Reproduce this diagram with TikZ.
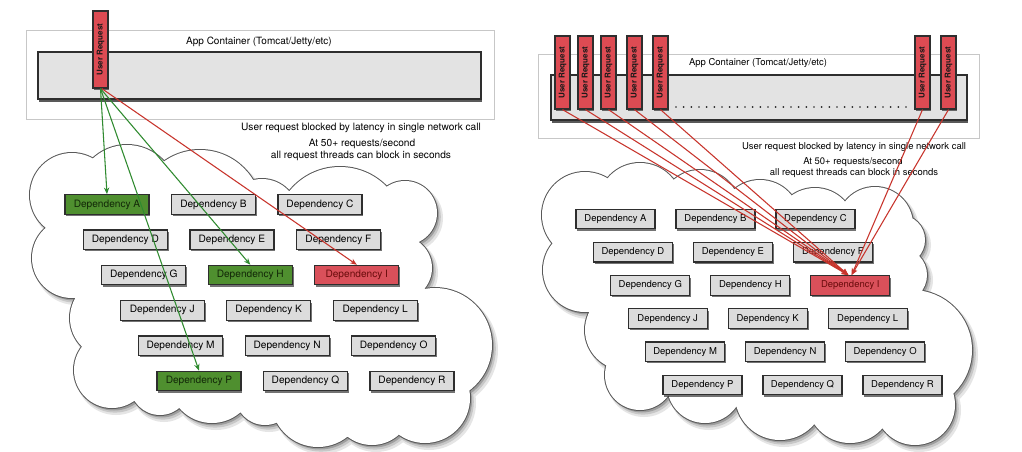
\documentclass[tikz,border=0pt]{standalone}
\usepackage{fontspec}
\setmainfont{TeX Gyre Heros}
\usetikzlibrary{arrows.meta,shadows}
\definecolor{depfill}{HTML}{DCDCDC}
\definecolor{boxline}{HTML}{2E2E2E}
\definecolor{depgreen}{HTML}{4F8F2F}
\definecolor{greentext}{HTML}{122808}
\definecolor{depred}{HTML}{D9505A}
\definecolor{redtext}{HTML}{6A0C0C}
\definecolor{ureqfill}{HTML}{DD4B53}
\definecolor{contfill}{HTML}{E3E3E3}
\definecolor{lgreen}{HTML}{2F8A2F}
\definecolor{lred}{HTML}{C8342C}
\def\cloudL{72/195/42, 127/195/50, 200/212/62, 262/215/36, 340/232/65, 405/213/32, 400/268/32, 435/345/57, 425/398/45, 372/405/40, 318/400/47, 265/395/30, 212/380/43, 160/385/30, 112/370/38, 110/318/40, 72/258/40}
\def\cloudR{585/215/43, 640/205/42, 700/210/40, 760/220/40, 815/228/40, 875/225/38, 900/240/25, 900/275/27, 912/350/60, 915/405/40, 850/400/43, 780/395/45, 705/385/38, 640/375/35, 625/330/40, 585/270/42}
\newcommand\drawmycloud[2]{%
  \fill[black!10] \foreach \x/\y/\r in #1 {({\x+4},{\y+5}) circle ({\r+2})};
  \fill[black!22] \foreach \x/\y/\r in #1 {({\x+3},{\y+3.8}) circle ({\r+0.8})};
  \fill[black!38] \foreach \x/\y/\r in #1 {({\x+2},{\y+2.5}) circle (\r)};
  \foreach \x/\y/\r in #1 {\draw[cloudline] (\x,\y) circle (\r);}
  \fill[white] \foreach \x/\y/\r in #1 {(\x,\y) circle (\r)};
  \fill[white] #2 \foreach \x/\y/\r in #1 {-- (\x,\y)} -- cycle;
}
\begin{document}
\begin{tikzpicture}[x=0.75pt,y=-0.75pt,
  boxshadow/.style={drop shadow={shadow xshift=1.1pt,shadow yshift=-1.4pt,opacity=0.55,fill=black}},
  dep/.style={draw=boxline,line width=0.9pt,fill=depfill,minimum width=63pt,minimum height=14.6pt,inner sep=0pt,
    font=\fontsize{7.6}{9}\selectfont,text=black,boxshadow},
  depR/.style={dep,minimum width=59.25pt,font=\fontsize{7.1}{8.5}\selectfont},
  nohl/.style={},
  hgreen/.style={fill=depgreen,text=greentext},
  hred/.style={fill=depred,text=redtext},
  ureq/.style={draw=boxline,line width=0.9pt,fill=ureqfill,minimum width=11.25pt,minimum height=57.75pt,inner sep=0pt,
    font=\bfseries\fontsize{6}{7}\selectfont,text=black!90,boxshadow},
  ureqR/.style={ureq,minimum height=54.75pt},
  cont/.style={draw=boxline,line width=0.9pt,fill=contfill,inner sep=0pt,
    drop shadow={shadow xshift=0.6pt,shadow yshift=-2.4pt,opacity=0.65,fill=black}},
  outframe/.style={draw=black!22,line width=0.6pt,fill=white,inner sep=0pt},
  note/.style={font=\fontsize{7.6}{9}\selectfont,text=black,inner sep=0pt},
  noteR/.style={font=\fontsize{7.1}{8.5}\selectfont,text=black,inner sep=0pt},
  gline/.style={draw=lgreen,line width=0.8pt,-{Stealth[length=5pt,width=4pt]}},
  rline/.style={draw=lred,line width=0.8pt,-{Stealth[length=5pt,width=4pt]}},
  cloudline/.style={draw=black!65,line width=1.5pt}
]
\useasboundingbox[fill=white] (0,0) rectangle (1022,451);

% ---------------- clouds ----------------
\drawmycloud{\cloudL}{(72,195)}
\drawmycloud{\cloudR}{(585,215)}

% ---------------- left panel ----------------
\node[outframe,minimum width=351pt,minimum height=66.75pt] (LF) at (260,74.5) {};
\node[cont,minimum width=332.25pt,minimum height=35.25pt] (LC) at (259.5,75.5) {};
\node[font=\fontsize{7.5}{9}\selectfont,text=black,inner sep=0pt] (LT) at (259,42) {App Container (Tomcat/Jetty/etc)};
\node[ureq] (LU) at (100.5,49.5) {\rotatebox{90}{User Request}};

\node[note] (LN1) at (361,128) {User request blocked by latency in single network call};
\node[note] (LN2) at (362,144) {At 50+ requests/second};
\node[note] (LN3) at (361,155.5) {all request threads can block in seconds};

\foreach \n/\st [count=\i from 0] in {A/hgreen,B/nohl,C/nohl,D/nohl,E/nohl,F/nohl,G/nohl,H/hgreen,I/hred,J/nohl,K/nohl,L/nohl,M/nohl,N/nohl,O/nohl,P/hgreen,Q/nohl,R/nohl}{
  \pgfmathtruncatemacro\row{floor(\i/3)}
  \pgfmathtruncatemacro\col{\i-3*\row}
  \node[dep,\st] (L\n) at ({107+18.4*\row+106.5*\col},{204.5+35.3*\row}) {Dependency \n};
}

\draw[gline] (LU.south) -- (LA.north);
\draw[gline] (LU.south) -- (LP.north);
\draw[gline] (LU.south) -- (LH.north);
\draw[rline] ([xshift=1pt]LU.south) -- (LI.north);

% ---------------- right panel ----------------
\node[outframe,minimum width=330.75pt,minimum height=63pt] (RF) at (758.5,96) {};
\node[cont,minimum width=312pt,minimum height=33.75pt] (RC) at (759,97.5) {};
\node[font=\fontsize{7.1}{8.5}\selectfont,text=black,inner sep=0pt] (RT) at (758,63) {App Container (Tomcat/Jetty/etc)};
\coordinate (dotA) at (676,107);
\coordinate (dotB) at (908,107);
\draw[black!85,line width=1.4pt,line cap=round,dash pattern=on 0pt off 5.75pt] (dotA) -- (dotB);

\foreach \k/\x in {1/562.5,2/585.5,3/608.5,4/634.5,5/660.5,6/922.5,7/948.5}{
  \node[ureqR] (RU\k) at (\x,72.5) {\rotatebox{90}{User Request}};
}

\node[noteR] (RN1) at (854,147) {User request blocked by latency in single network call};
\node[noteR] (RN2) at (853,162) {At 50+ requests/second};
\node[noteR] (RN3) at (854,173) {all request threads can block in seconds};

\foreach \n/\st [count=\i from 0] in {A/nohl,B/nohl,C/nohl,D/nohl,E/nohl,F/nohl,G/nohl,H/nohl,I/hred,J/nohl,K/nohl,L/nohl,M/nohl,N/nohl,O/nohl,P/nohl,Q/nohl,R/nohl}{
  \pgfmathtruncatemacro\row{floor(\i/3)}
  \pgfmathtruncatemacro\col{\i-3*\row}
  \node[depR,\st] (R\n) at ({615.5+17.4*\row+100*\col},{219+33.2*\row}) {Dependency \n};
}

\foreach \k in {1,...,5}{\draw[rline] (RU\k.south) -- ([xshift=-1.5pt]RI.north);}
\foreach \k in {6,7}{\draw[rline] (RU\k.south) -- ([xshift=1pt]RI.north);}
\end{tikzpicture}
\end{document}
